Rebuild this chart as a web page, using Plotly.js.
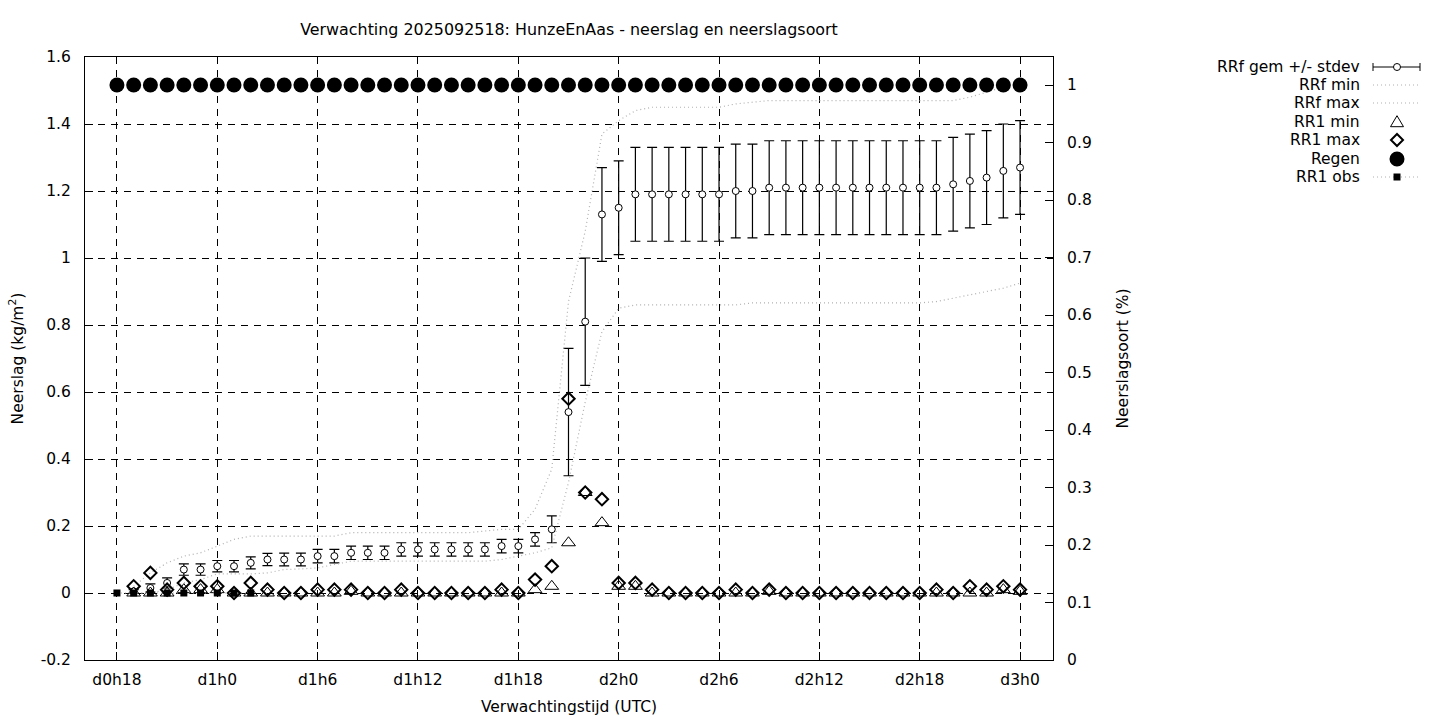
<!DOCTYPE html>
<html>
<head>
<meta charset="utf-8">
<script src="https://cdn.plot.ly/plotly-3.0.1.min.js"></script>
<style>
  html, body { margin: 0; padding: 0; background: #fff; }
  #chart { width: 1440px; height: 720px; }
</style>
</head>
<body>
<div id="chart"></div>
<script>
// ---- data (hours since d0h0) ----
const regenHours = [18,19,20,21,22,23,24,25,26,27,28,29,30,31,32,33,34,35,36,37,38,39,40,41,42,43,44,45,46,47,48,49,50,51,52,53,54,55,56,57,58,59,60,61,62,63,64,65,66,67,68,69,70,71,72];
const regenValues = [1,1,1,1,1,1,1,1,1,1,1,1,1,1,1,1,1,1,1,1,1,1,1,1,1,1,1,1,1,1,1,1,1,1,1,1,1,1,1,1,1,1,1,1,1,1,1,1,1,1,1,1,1,1,1];

const obsHours = [18,19,20,21,22,23,24,25,26];
const obsValues = [0,0,0,0,0,0,0,0,0];

const fcHours = [19,20,21,22,23,24,25,26,27,28,29,30,31,32,33,34,35,36,37,38,39,40,41,42,43,44,45,46,47,48,49,50,51,52,53,54,55,56,57,58,59,60,61,62,63,64,65,66,67,68,69,70,71,72];

const rrfMean = [0.005,0.015,0.03,0.07,0.07,0.08,0.08,0.09,0.10,0.10,
                 0.10,0.11,0.11,0.12,0.12,0.12,0.13,0.13,0.13,0.13,
                 0.13,0.13,0.14,0.14,0.16,0.19,0.54,0.81,1.13,1.15,
                 1.19,1.19,1.19,1.19,1.19,1.19,1.20,1.20,1.21,1.21,
                 1.21,1.21,1.21,1.21,1.21,1.21,1.21,1.21,1.21,1.22,
                 1.23,1.24,1.26,1.27];
const rrfStdev = [0.005,0.012,0.015,0.017,0.017,0.017,0.017,0.018,0.018,0.019,
                  0.019,0.02,0.02,0.02,0.02,0.02,0.02,0.02,0.02,0.02,
                  0.02,0.02,0.02,0.02,0.02,0.04,0.19,0.19,0.14,0.14,
                  0.14,0.14,0.14,0.14,0.14,0.14,0.14,0.14,0.14,0.14,
                  0.14,0.14,0.14,0.14,0.14,0.14,0.14,0.14,0.14,0.14,
                  0.14,0.14,0.14,0.14];
const rrfMin = [0,0,0.01,0.03,0.04,0.057,0.057,0.057,0.06,0.07,
                0.072,0.075,0.085,0.095,0.095,0.095,0.095,0.095,0.095,0.095,
                0.095,0.095,0.10,0.11,0.12,0.135,0.33,0.57,0.78,0.85,
                0.86,0.86,0.86,0.86,0.86,0.86,0.86,0.866,0.866,0.866,
                0.866,0.866,0.866,0.866,0.866,0.866,0.866,0.866,0.87,0.88,
                0.89,0.90,0.91,0.925];
const rrfMax = [0.02,0.06,0.09,0.11,0.12,0.14,0.16,0.17,0.17,0.17,
                0.17,0.17,0.17,0.18,0.18,0.18,0.18,0.18,0.18,0.18,
                0.18,0.185,0.19,0.19,0.25,0.37,0.87,1.08,1.37,1.41,
                1.44,1.45,1.45,1.45,1.45,1.45,1.46,1.465,1.47,1.47,
                1.47,1.47,1.47,1.47,1.47,1.47,1.47,1.47,1.47,1.47,
                1.48,1.495,1.51,1.52];
const rr1Min = [0,0,0,0.01,0.01,0.01,0,0,0,0,
                0,0,0,0.005,0,0,0,0,0,0,
                0,0,0,0,0.01,0.02,0.15,0.30,0.21,0.02,
                0.02,0,0,0,0,0,0,0,0.005,0,
                0,0,0,0,0,0,0,0,0,0,
                0,0,0.01,0.005];
const rr1Max = [0.02,0.06,0.01,0.03,0.02,0.02,0,0.03,0.01,0,
                0,0.01,0.01,0.01,0,0,0.01,0,0,0,
                0,0,0.01,0,0.04,0.08,0.58,0.30,0.28,0.03,
                0.03,0.01,0,0,0,0,0.01,0,0.01,0,
                0,0,0,0,0,0,0,0,0.01,0,
                0.02,0.01,0.02,0.01];

const xTickVals = [18,24,30,36,42,48,54,60,66,72];
const xTickText = ['d0h18','d1h0','d1h6','d1h12','d1h18','d2h0','d2h6','d2h12','d2h18','d3h0'];
const yTickVals = [-0.2,0,0.2,0.4,0.6,0.8,1,1.2,1.4,1.6];
const yTickText = ['-0.2','0','0.2','0.4','0.6','0.8','1','1.2','1.4','1.6'];
const y2TickVals = [0,0.1,0.2,0.3,0.4,0.5,0.6,0.7,0.8,0.9,1];
const y2TickText = ['0','0.1','0.2','0.3','0.4','0.5','0.6','0.7','0.8','0.9','1'];

const legendLabels = ['RRf gem +/- stdev','RRf min','RRf max','RR1 min','RR1 max','Regen','RR1 obs'];

// ---- layout geometry ----
const W = 1440, H = 720;
const M = {l: 85, r: 387, t: 57, b: 60};
const PW = W - M.l - M.r, PH = H - M.t - M.b;
const FONT = 'DejaVu Sans';
const FS = 15.5;
const px2x = p => (p - M.l) / PW;
const py2y = p => (H - M.b - p) / PH;

const grey = '#b0b0b0';

const traces = [
  {
    x: fcHours, y: rrfMean, type: 'scatter', mode: 'markers', name: legendLabels[0],
    marker: {symbol: 'circle', size: 7, color: '#ffffff', line: {color: '#000', width: 1}},
    error_y: {type: 'data', array: rrfStdev, visible: true, color: '#000', thickness: 1.2, width: 5},
    xaxis: 'x', yaxis: 'y', cliponaxis: false
  },
  {
    x: fcHours, y: rrfMin, type: 'scatter', mode: 'lines', name: legendLabels[1],
    line: {color: grey, width: 1.2, dash: '1px,3px'}, xaxis: 'x', yaxis: 'y'
  },
  {
    x: fcHours, y: rrfMax, type: 'scatter', mode: 'lines', name: legendLabels[2],
    line: {color: grey, width: 1.2, dash: '1px,3px'}, xaxis: 'x', yaxis: 'y'
  },
  {
    x: fcHours, y: rr1Min, type: 'scatter', mode: 'markers', name: legendLabels[3],
    marker: {symbol: 'triangle-up-open', size: 12, color: '#000', line: {color: '#000', width: 1}},
    xaxis: 'x', yaxis: 'y'
  },
  {
    x: fcHours, y: rr1Max, type: 'scatter', mode: 'markers', name: legendLabels[4],
    marker: {symbol: 'diamond-open', size: 9.5, color: '#000', line: {color: '#000', width: 2}},
    xaxis: 'x', yaxis: 'y'
  },
  {
    x: obsHours, y: obsValues, type: 'scatter', mode: 'lines+markers', name: legendLabels[6],
    line: {color: grey, width: 1.2, dash: '1px,3px'},
    marker: {symbol: 'square', size: 7, color: '#000'},
    xaxis: 'x', yaxis: 'y'
  },
  {
    x: regenHours, y: regenValues, type: 'scatter', mode: 'markers', name: legendLabels[5],
    marker: {symbol: 'circle', size: 15, color: '#000'},
    xaxis: 'x', yaxis: 'y2', cliponaxis: false
  }
];

// ---- custom gnuplot-style legend (text right, sample on the right) ----
const legRows = [67, 85, 103, 122, 140, 159, 177];
const sx0 = 1373, sx1 = 1420, sxc = 1397;
const annotations = legendLabels.map((t, i) => ({
  text: t, xref: 'paper', yref: 'paper', x: px2x(1362), y: py2y(legRows[i]),
  xanchor: 'right', yanchor: 'middle', showarrow: false,
  font: {family: FONT, size: FS, color: '#000'}
}));

const pShape = (cx, cy, path, extra) => Object.assign({
  type: 'path', xref: 'paper', yref: 'paper', xsizemode: 'pixel', ysizemode: 'pixel',
  xanchor: px2x(cx), yanchor: py2y(cy), path: path, line: {color: '#000', width: 1}
}, extra || {});
const cShape = (cx, cy, r, extra) => Object.assign({
  type: 'circle', xref: 'paper', yref: 'paper', xsizemode: 'pixel', ysizemode: 'pixel',
  xanchor: px2x(cx), yanchor: py2y(cy), x0: -r, x1: r, y0: -r, y1: r,
  line: {color: '#000', width: 1}
}, extra || {});
const lShape = (x0, y0, x1, y1, line) => ({
  type: 'line', xref: 'paper', yref: 'paper', x0: px2x(x0), x1: px2x(x1), y0: py2y(y0), y1: py2y(y1), line: line
});

const shapes = [
  lShape(sx0, legRows[0], sx1, legRows[0], {color: '#000', width: 1}),
  lShape(sx0, legRows[0] - 4, sx0, legRows[0] + 4, {color: '#000', width: 1}),
  lShape(sx1, legRows[0] - 4, sx1, legRows[0] + 4, {color: '#000', width: 1}),
  cShape(sxc, legRows[0], 3.5, {fillcolor: '#fff'}),
  lShape(sx0, legRows[1], sx1, legRows[1], {color: grey, width: 1.2, dash: '1px,3px'}),
  lShape(sx0, legRows[2], sx1, legRows[2], {color: grey, width: 1.2, dash: '1px,3px'}),
  pShape(sxc, legRows[3], 'M-6.5,-4.7 L6.5,-4.7 L0,6.3 Z'),
  pShape(sxc, legRows[4], 'M0,-6 L6,0 L0,6 L-6,0 Z', {line: {color: '#000', width: 2}}),
  cShape(sxc, legRows[5], 7.5, {fillcolor: '#000', line: {color: '#000', width: 0}}),
  lShape(sx0, legRows[6], sx1, legRows[6], {color: grey, width: 1.2, dash: '1px,3px'}),
  pShape(sxc, legRows[6], 'M-3.5,-3.5 L3.5,-3.5 L3.5,3.5 L-3.5,3.5 Z', {fillcolor: '#000', line: {color: '#000', width: 0}})
];

const axisFont = {family: FONT, size: FS, color: '#000'};
const gridDash = '7px,6px';

const layout = {
  width: W, height: H,
  margin: M,
  paper_bgcolor: '#fff', plot_bgcolor: '#fff',
  font: axisFont,
  showlegend: false,
  title: {
    text: 'Verwachting 2025092518: HunzeEnAas - neerslag en neerslagsoort',
    font: {family: FONT, size: 15.9, color: '#000'},
    xref: 'paper', x: 0.5, xanchor: 'center',
    yref: 'container', y: 1 - 29 / H, yanchor: 'middle'
  },
  xaxis: {
    range: [16.09, 73.97], tickmode: 'array', tickvals: xTickVals, ticktext: xTickText,
    ticks: 'inside', ticklen: 8, tickcolor: '#000', tickwidth: 1,
    showgrid: true, gridcolor: '#000', gridwidth: 1, griddash: gridDash,
    showline: true, linecolor: '#000', linewidth: 1, mirror: true, zeroline: false,
    tickfont: axisFont, ticklabelstandoff: 5, automargin: false,
    title: {text: 'Verwachtingstijd (UTC)', font: axisFont, standoff: 13}
  },
  yaxis: {
    range: [-0.2, 1.6], tickmode: 'array', tickvals: yTickVals, ticktext: yTickText,
    ticks: 'inside', ticklen: 8, tickcolor: '#000', tickwidth: 1,
    showgrid: true, gridcolor: '#000', gridwidth: 1, griddash: gridDash,
    showline: true, linecolor: '#000', linewidth: 1, mirror: true, zeroline: false,
    tickfont: axisFont, ticklabelstandoff: 10, automargin: false,
    title: {text: 'Neerslag (kg/m<sup>2</sup>)', font: axisFont, standoff: 13}
  },
  yaxis2: {
    overlaying: 'y', side: 'right',
    range: [0, 603 / 575], tickmode: 'array', tickvals: y2TickVals, ticktext: y2TickText,
    ticks: 'inside', ticklen: 8, tickcolor: '#000', tickwidth: 1,
    showgrid: false, showline: true, linecolor: '#000', linewidth: 1, zeroline: false,
    tickfont: axisFont, ticklabelstandoff: 10, automargin: false,
    title: {text: 'Neerslagsoort (%)', font: axisFont, standoff: 26}
  },
  annotations: annotations,
  shapes: shapes
};

Plotly.newPlot('chart', traces, layout, {displayModeBar: false, staticPlot: true});
</script>
</body>
</html>
